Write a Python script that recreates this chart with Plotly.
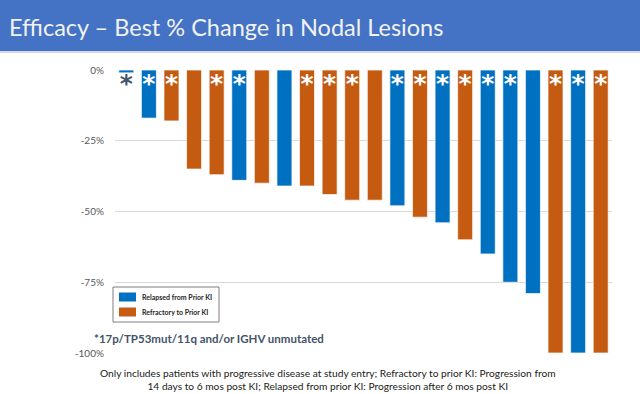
import plotly.graph_objects as go

patients = list(range(1, 23))
best_change = [-1, -17, -18, -35, -37, -39, -40, -41, -41, -44, -46, -46,
               -48, -52, -54, -60, -65, -75, -79, -100, -100, -100]
group = ["R", "R", "F", "F", "F", "R", "F", "R", "F", "F", "F", "F",
         "R", "F", "R", "F", "R", "R", "R", "F", "R", "F"]
high_risk = [1, 1, 1, 0, 1, 1, 0, 0, 1, 1, 1, 0,
             1, 1, 1, 1, 1, 1, 0, 1, 1, 1]
tick_vals = [0, -25, -50, -75, -100]
tick_text = ["0%", "-25%", "-50%", "-75%", "-100%"]
legend_names = ["Relapsed from Prior KI", "Refractory to Prior KI"]

BLUE = "#0070C0"
ORANGE = "#C55A11"
L, R, T, B = 115, 28, 70, 41
W, H = 640, 394
pw, ph = W - L - R, H - T - B


def px_x(p):
    return (p - L) / pw


def px_y(p):
    return 1 - (p - T) / ph


fig = go.Figure()
for code, name, color in [("R", legend_names[0], BLUE),
                          ("F", legend_names[1], ORANGE)]:
    xs = [p for p, g in zip(patients, group) if g == code]
    ys = [v for v, g in zip(best_change, group) if g == code]
    fig.add_trace(go.Bar(x=xs, y=ys, name=name, marker_color=color, showlegend=False,
                         marker_line=dict(color="rgba(255,255,255,0.7)", width=1)))

ax = [p for p, h in zip(patients, high_risk) if h]
acol = ["#44546A" if v > -5 else "white" for p, v, h in zip(patients, best_change, high_risk) if h]
fig.add_trace(go.Scatter(x=ax, y=[-5.5] * len(ax), mode="text", text=["*"] * len(ax),
                         textposition="middle center", showlegend=False, hoverinfo="skip",
                         textfont=dict(family="DejaVu Sans", size=25, color=acol, weight="bold")))

fig.update_layout(
    width=W, height=H, margin=dict(l=L, r=R, t=T, b=B),
    paper_bgcolor="white", plot_bgcolor="white",
    barmode="relative", bargap=0.336,
    showlegend=False,
    xaxis=dict(range=[0.5, 22.5], showticklabels=False, showgrid=False, zeroline=False,
               ticks=""),
    yaxis=dict(range=[-100, 0], tickvals=tick_vals, ticktext=tick_text,
               showgrid=True, gridcolor="#D9D9D9", gridwidth=1, zeroline=False,
               ticks="", ticklabelstandoff=10,
               tickfont=dict(family="Lato", size=10, color="#595959")),
)

# title bar
fig.add_shape(type="rect", xref="paper", yref="paper", layer="below",
              x0=px_x(0), x1=px_x(W), y0=px_y(51), y1=px_y(0),
              fillcolor="#4472C4", line=dict(width=0))
fig.add_shape(type="rect", xref="paper", yref="paper", layer="below",
              x0=px_x(0), x1=px_x(W), y0=px_y(53), y1=px_y(51),
              fillcolor="#D0D8EA", line=dict(width=0))
fig.add_annotation(xref="paper", yref="paper", x=px_x(7), y=px_y(27),
                   xanchor="left", yanchor="middle", showarrow=False,
                   text="Efficacy – Best % Change in Nodal Lesions",
                   font=dict(family="Lato", size=23.5, color="#F2F2F2"))

# legend box (drawn)
fig.add_shape(type="rect", xref="paper", yref="paper",
              x0=px_x(113), x1=px_x(219), y0=px_y(322), y1=px_y(287),
              fillcolor="white", line=dict(color="#7F7F7F", width=1))
for i, (name, color) in enumerate(zip(legend_names, [BLUE, ORANGE])):
    cy = 297 + i * 15
    fig.add_shape(type="rect", xref="paper", yref="paper",
                  x0=px_x(119), x1=px_x(136), y0=px_y(cy + 4.5), y1=px_y(cy - 4.5),
                  fillcolor=color, line=dict(width=0))
    fig.add_annotation(xref="paper", yref="paper", x=px_x(140), y=px_y(cy),
                       xanchor="left", yanchor="middle", showarrow=False, text=name,
                       font=dict(family="Lato", size=7, color="#262626", weight="bold"))

fig.add_annotation(xref="paper", yref="paper", x=px_x(92), y=px_y(338),
                   xanchor="left", yanchor="middle", showarrow=False,
                   text="*17p/TP53mut/11q and/or IGHV unmutated",
                   font=dict(family="Lato", size=11.5, color="#44546A", weight="bold"))

fig.add_annotation(xref="paper", yref="paper", x=px_x(328), y=px_y(379),
                   xanchor="center", yanchor="middle", showarrow=False, align="center",
                   text="Only includes patients with progressive disease at study entry; Refractory to prior KI: Progression from<br>14 days to 6 mos post KI; Relapsed from prior KI: Progression after 6 mos post KI",
                   font=dict(family="Lato", size=10.2, color="#1A1A1A"))

fig.write_html("out.html", config={"displayModeBar": False},
               post_script="document.body.style.margin='0';")
